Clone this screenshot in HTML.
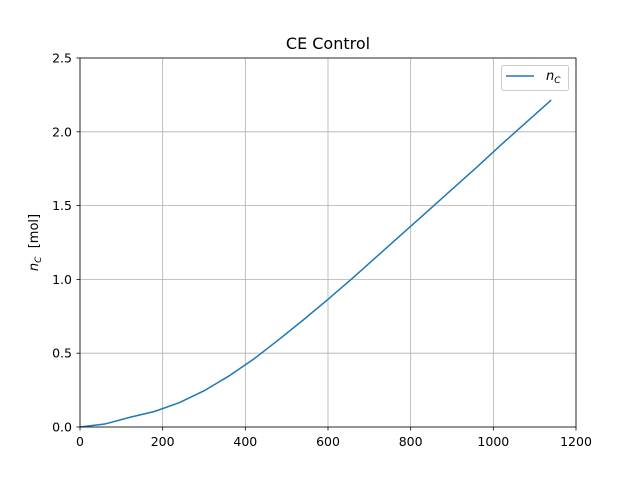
<!DOCTYPE html>
<html><head><meta charset="utf-8"><style>
body{margin:0;background:#fff;}
svg{display:block;font-family:"DejaVu Sans","Liberation Sans",sans-serif;}
</style></head><body>
<svg id="chart" width="640" height="480"></svg>
<script>
const xValues=[0,60,120,180,240,300,360,420,480,540,600,660,720,780,840,900,960,1020,1080,1140];
const nValues=[0,0.02,0.065,0.105,0.165,0.245,0.345,0.46,0.59,0.725,0.865,1.01,1.16,1.31,1.46,1.61,1.76,1.915,2.065,2.215];
const xTicks=[0,200,400,600,800,1000,1200];
const yTicks=[0.0,0.5,1.0,1.5,2.0,2.5];
const L=80,R=576,T=58,B=427;
const sx=v=>L+(v-0)/(1200-0)*(R-L);
const sy=v=>B-(v-0)/(2.5-0)*(B-T);
const svg=document.getElementById('chart');
const NS='http://www.w3.org/2000/svg';
function mk(tag,attrs,parent){const e=document.createElementNS(NS,tag);for(const k in attrs)e.setAttribute(k,attrs[k]);(parent||svg).appendChild(e);return e;}
const grid=mk('g',{});


xTicks.forEach(t=>{
 mk('line',{x1:sx(t),x2:sx(t),y1:T,y2:B,stroke:'#b0b0b0','stroke-width':0.8},grid);
 mk('line',{x1:sx(t),x2:sx(t),y1:B,y2:B+3.5,stroke:'#000','stroke-width':0.8});
 const tx=mk('text',{x:sx(t),y:B+19,'text-anchor':'middle','font-size':12.5,fill:'#000'});
 tx.textContent=t;
 
 
});
yTicks.forEach(t=>{
 mk('line',{x1:L,x2:R,y1:sy(t),y2:sy(t),stroke:'#b0b0b0','stroke-width':0.8},grid);
 mk('line',{x1:L-3.5,x2:L,y1:sy(t),y2:sy(t),stroke:'#000','stroke-width':0.8});
 const tx=mk('text',{x:L-8,y:sy(t)+4.5,'text-anchor':'end','font-size':12.5,fill:'#000'});
 tx.textContent=t.toFixed(1);
 
 
});
const line=mk('polyline',{points:xValues.map((x,i)=>sx(x)+','+sy(nValues[i])).join(' '),fill:'none',stroke:'#1f77b4','stroke-width':1.5});


const frame=mk('rect',{x:L,y:T,width:R-L,height:B-T,fill:'none',stroke:'#000','stroke-width':0.8});


const title=mk('text',{x:(L+R)/2,y:T-9,'text-anchor':'middle','font-size':16,fill:'#000'});
title.textContent='CE Control';


const yl=mk('text',{transform:'translate(38,'+((T+B)/2)+') rotate(-90)','text-anchor':'middle','font-size':13,fill:'#000'});
yl.innerHTML='<tspan font-style="italic">n</tspan><tspan font-style="italic" font-size="9" dy="3">C</tspan><tspan dy="-3" xml:space="preserve">  [mol]</tspan>';


const lg=mk('g',{});


mk('rect',{x:501.5,y:65.5,width:67,height:25,rx:2,fill:'#fff',stroke:'#ccc','stroke-width':1},lg);
mk('line',{x1:506,x2:534,y1:76,y2:76,stroke:'#1f77b4','stroke-width':1.5},lg);
const lt=mk('text',{x:546,y:80,'font-size':13,fill:'#000'},lg);
lt.innerHTML='<tspan font-style="italic">n</tspan><tspan font-style="italic" font-size="9" dy="3">C</tspan>';


</script>
</body></html>
